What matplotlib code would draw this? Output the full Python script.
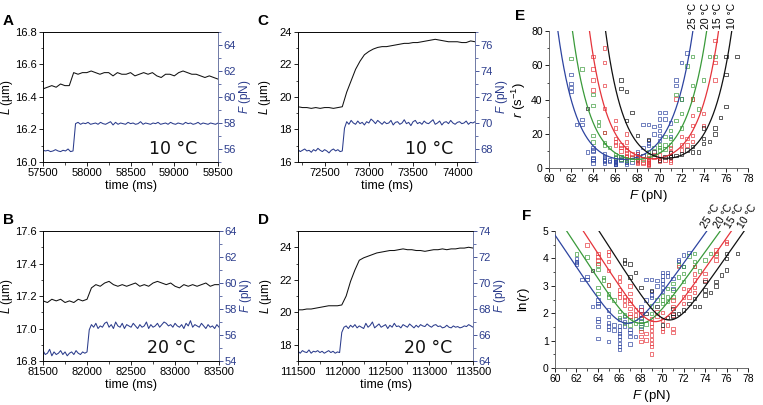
import numpy as np
import matplotlib.pyplot as plt
from matplotlib.ticker import MultipleLocator

plt.rcParams['font.family'] = ['Liberation Sans', 'DejaVu Sans']
plt.rcParams['mathtext.fontset'] = 'custom'
plt.rcParams['mathtext.rm'] = 'Liberation Sans'
plt.rcParams['mathtext.it'] = 'Liberation Sans:italic'

NAVY = '#2b3c8c'

# ---- extension traces (panels A-D) ----
A_TIME = (57500, 59500)
A_L = [16.45, 16.46, 16.47, 16.46, 16.48, 16.47, 16.47,
       16.55, 16.54, 16.55, 16.55, 16.56, 16.55, 16.54, 16.55, 16.55, 16.53,
       16.55, 16.54, 16.54, 16.55, 16.53, 16.54, 16.55, 16.54, 16.55, 16.53,
       16.52, 16.54, 16.54, 16.53, 16.55, 16.56, 16.55, 16.54, 16.54, 16.53,
       16.52, 16.53, 16.52, 16.51]
A_F = [55.90, 55.85, 55.90, 55.80, 55.85, 55.95, 55.85, 55.80, 55.90, 55.85, 56.00, 55.80, 55.85,
       57.95, 58.05, 57.90, 58.00, 57.95, 58.05, 57.90, 57.95, 58.00, 57.90,
       58.05, 57.95, 57.90, 58.00, 58.10, 57.85, 58.05, 57.90, 58.00, 57.95,
       57.90, 58.05, 57.95, 58.00, 57.90, 57.95, 58.10, 57.90, 58.00, 57.95,
       57.90, 58.00, 57.95, 58.05, 57.90, 57.95, 58.00, 57.90, 58.05, 57.95,
       57.90, 58.00, 57.95, 57.90, 58.05, 57.95, 58.00, 57.90, 57.95, 58.05,
       57.90, 58.00, 57.95, 57.90, 58.00, 57.95, 57.90, 58.00]

B_TIME = (81500, 83500)
B_L = [17.17, 17.16, 17.18, 17.17, 17.18, 17.16, 17.17, 17.16, 17.18, 17.17, 17.18,
       17.25, 17.27, 17.26, 17.28, 17.29, 17.27, 17.26, 17.27, 17.26, 17.27,
       17.28, 17.26, 17.27, 17.26, 17.28, 17.29, 17.28, 17.27, 17.28, 17.26,
       17.25, 17.27, 17.26, 17.27, 17.26, 17.27, 17.28, 17.26, 17.27, 17.27]
B_F = [54.8, 54.5, 54.6, 54.9, 54.4, 54.7, 54.5, 54.6, 54.8, 54.5, 54.7,
       54.4, 54.6, 54.7, 54.5, 54.8, 54.6, 54.5, 54.7, 54.6, 54.7,
       56.4, 56.8, 56.6, 56.9, 56.5, 56.7, 56.6, 56.9, 57.0, 56.6,
       56.8, 56.5, 57.0, 56.7, 56.6, 56.9, 56.5, 56.8, 56.7, 56.6,
       56.9, 56.7, 56.5, 56.8, 56.6, 56.7, 57.0, 56.5, 56.8, 56.6,
       56.7, 56.9, 56.6, 56.8, 57.0, 56.9, 56.7, 56.8, 56.6, 56.9,
       56.7, 56.6, 56.8, 56.5, 56.9, 56.7, 57.1, 56.6, 56.8, 56.7,
       56.6, 56.9, 56.7, 56.5, 56.8, 56.6, 56.7, 56.5, 56.8, 56.6]

C_TIME = (72200, 74200)
C_L = [19.40, 19.35, 19.35, 19.30, 19.35, 19.30, 19.35, 19.35, 19.30, 19.35, 19.40,
       20.30, 21.00, 21.70, 22.20, 22.60, 22.80, 22.95, 23.05, 23.10, 23.10,
       23.15, 23.20, 23.25, 23.30, 23.30, 23.35, 23.35, 23.40, 23.45, 23.50,
       23.55, 23.50, 23.45, 23.40, 23.40, 23.40, 23.35, 23.35, 23.45, 23.40]
C_F = [67.95, 67.80, 67.90, 68.00, 67.85, 67.90, 67.75, 67.95, 67.85, 68.05, 67.90,
       67.80, 67.95, 67.85, 67.70, 67.90, 68.00, 67.85, 67.95, 67.80, 67.85,
       69.60, 70.10, 69.90, 70.20, 70.00, 69.90, 70.15, 69.95, 70.05, 69.85,
       70.10, 70.00, 70.30, 70.15, 69.95, 70.20, 70.05, 69.90, 70.10, 69.95,
       70.00, 70.20, 69.85, 70.05, 70.10, 69.90, 70.00, 70.25, 69.95, 70.05,
       69.80, 70.10, 70.20, 69.95, 70.05, 69.90, 70.15, 70.00, 69.95, 70.10,
       70.25, 69.90, 70.00, 70.15, 69.85, 70.05, 70.10, 69.95, 70.20, 70.00,
       69.90, 70.05, 70.10, 69.95, 70.00, 70.15, 69.90, 70.05, 70.00, 70.10]

D_TIME = (111500, 113500)
D_L = [20.15, 20.15, 20.20, 20.20, 20.25, 20.30, 20.35, 20.40, 20.40, 20.40, 20.45,
       21.00, 21.90, 22.60, 23.20, 23.35, 23.45, 23.55, 23.65, 23.70, 23.75,
       23.80, 23.80, 23.85, 23.90, 23.85, 23.85, 23.80, 23.80, 23.75, 23.80,
       23.85, 23.85, 23.90, 23.85, 23.90, 23.90, 23.95, 23.95, 24.00, 23.95]
D_F = [64.75, 64.60, 64.80, 64.70, 64.65, 64.85, 64.60, 64.75, 64.70, 64.80,
       64.65, 64.75, 64.60, 64.70, 64.80, 64.65, 64.75, 64.60, 64.70, 64.65,
       66.20, 66.60, 66.70, 66.50, 66.75, 66.60, 66.80, 66.55, 66.70, 66.60,
       66.50, 66.90, 66.60, 66.75, 67.00, 66.55, 66.70, 66.85, 66.60, 66.70,
       66.80, 66.50, 66.75, 66.60, 66.90, 66.65, 66.70, 66.55, 66.80, 66.70,
       66.60, 66.85, 66.70, 66.55, 66.75, 66.60, 66.80, 66.70, 66.65, 66.85,
       66.70, 66.60, 66.75, 66.80, 66.65, 66.70, 66.55, 66.60, 66.75, 66.60,
       66.55, 66.70, 66.60, 66.65, 66.55, 66.60, 66.70, 66.65, 66.80, 66.70, 66.60]

# ---- rupture rates vs force (panels E, F), ln(r) ----
TEMPS = ['25 °C', '20 °C', '15 °C', '10 °C']
TEMP_COLORS = ['#2d44a0', '#3a9a3a', '#e5343b', '#111111']

F25 = [62, 62, 62, 62, 62.5, 63, 63, 63.5, 64, 64, 64, 64, 64, 64, 64,
       65, 65, 65, 65, 65, 65, 65.5, 65.5, 66, 66, 66, 66, 66, 66, 66, 66, 66,
       66.5, 66.5, 66.5, 67, 67, 67, 67, 67.5, 68, 68, 68, 68, 68, 68,
       68.5, 68.5, 69, 69, 69, 69, 69.5, 69.5, 70, 70, 70, 70, 70, 70,
       70.5, 70.5, 71, 71, 71.5, 71.5, 72, 72, 72.5]
LNR25 = [4.0, 3.9, 3.85, 3.8, 3.24, 3.35, 3.24, 2.24, 2.48, 2.36, 2.26, 1.81, 1.69, 1.51, 1.08,
         2.12, 1.87, 1.65, 1.53, 1.41, 0.96, 1.57, 1.39, 1.78, 1.53, 1.39, 1.27, 1.17, 1.05, 0.9, 0.78, 0.68,
         1.87, 1.69, 1.53, 1.41, 1.29, 1.14, 0.88, 1.14, 2.24, 2.12, 1.97, 1.85, 1.69, 1.51,
         3.24, 2.48, 3.24, 2.79, 2.66, 2.58, 3.19, 2.99, 3.48, 3.36, 3.21, 3.09, 2.94, 2.79,
         3.48, 3.36, 2.91, 3.27, 3.94, 3.88, 4.12, 3.70, 4.21]

F20 = [62, 63, 64, 64, 64, 64, 64.5, 64.5, 65, 65, 65, 65.5, 66, 66, 66.5, 66.5,
       67, 67, 67.5, 67.5, 68, 68, 68, 68.5, 69, 69, 69.5, 70, 70, 70,
       70.5, 70.5, 70.5, 71, 71, 71, 71.5, 71.5, 72, 72, 72, 72.5, 73, 73, 73,
       73.5, 74, 74.5, 75]
LNR20 = [4.16, 4.06, 3.76, 3.60, 2.94, 2.73, 3.31, 3.21, 3.03, 2.70, 2.60, 2.48, 2.06, 1.85, 1.93, 1.63,
         1.75, 1.57, 1.81, 1.63, 1.81, 1.63, 1.45, 1.6, 2.0, 2.26, 2.48, 2.63, 2.48, 2.36,
         2.91, 2.60, 2.42, 3.09, 2.85, 2.60, 3.76, 3.33, 3.70, 3.46, 3.15, 4.09, 4.18, 3.88, 3.70,
         3.54, 3.94, 4.18, 4.18]

F15 = [63, 64, 64, 64, 64, 65, 65, 65, 65, 65, 66, 66, 66, 66, 66, 66.5, 66.5, 66.5,
       67, 67, 67, 67, 67, 67, 67, 67.5, 67.5, 68, 68, 68, 68, 68, 68.5, 68.5,
       69, 69, 69, 69, 69, 69, 69, 69, 69, 69.5, 69.5, 70, 70, 70, 70, 70.5,
       71, 71, 71, 71, 71, 71.5, 72, 72, 72, 72.5, 72.5, 73, 73, 73, 73, 73,
       74, 74, 75, 75, 75, 76, 76]
LNR15 = [4.49, 4.18, 4.06, 3.94, 3.82, 4.25, 4.12, 3.88, 3.55, 3.03, 3.33, 3.15, 2.85, 2.72, 2.60,
         2.48, 2.30, 2.60, 2.99, 2.72, 2.48, 2.36, 2.18, 2.0, 1.87, 2.12, 1.93,
         2.12, 1.93, 1.33, 1.14, 0.96, 1.27, 1.02,
         1.81, 1.65, 1.51, 1.36, 1.20, 1.05, 0.90, 0.78, 0.51, 2.05, 1.87, 2.02, 1.75, 1.45, 1.33, 1.57,
         2.48, 2.24, 1.93, 1.45, 1.29, 3.70, 2.91, 2.60, 2.36, 2.85, 2.60, 3.70, 3.43, 3.21, 2.94, 2.75,
         3.46, 3.21, 4.31, 4.12, 3.94, 4.61, 4.55]

F10 = [63.5, 66.5, 66.5, 67, 67, 67.5, 68, 68.5, 69, 69.5, 70, 70.5, 71, 71, 71,
       71.5, 72, 72.5, 73, 73, 73.5, 74, 74, 74, 74.5, 75, 75, 75.5, 76, 76, 76, 77]
LNR10 = [3.55, 3.94, 3.84, 3.80, 3.33, 3.48, 2.94, 2.0, 2.82, 2.24, 1.57, 1.85, 2.18, 2.0, 1.87,
         2.0, 2.12, 2.36, 2.54, 2.24, 2.24, 3.15, 2.85, 2.66, 2.75, 3.15, 2.99, 3.39, 4.18, 4.0, 3.58, 4.18]

# fitted curves: ln r = c + ln(exp(kr (F - F0)) + exp(-kl (F - F0)))
FIT_F0 = [66.7, 67.9, 69.3, 70.6]
FIT_C = [0.94, 0.94, 1.00, 1.06]
FIT_KL = [0.584, 0.596, 0.600, 0.606]
FIT_KR = [0.545, 0.541, 0.560, 0.560]


def trace_panel(ax, trange, L, F, Llim, Lmaj, Lmin, Lfmt, Flim, Fticks, xticks, temp, tx,
                letter, lab_left, lab_right):
    tL = np.linspace(trange[0], trange[1], len(L))
    tF = np.linspace(trange[0], trange[1], len(F))
    ax.plot(tL, L, color='#111111', lw=0.75)
    ax.set_xlim(*trange)
    ax.set_ylim(*Llim)
    ax.yaxis.set_major_locator(MultipleLocator(Lmaj))
    ax.yaxis.set_minor_locator(MultipleLocator(Lmin))
    ax.yaxis.set_major_formatter(Lfmt)
    ax.set_xticks(xticks)
    ax.xaxis.set_minor_locator(MultipleLocator(250))
    ax.tick_params(labelsize=8, length=3, width=0.6, pad=1.5)
    ax.tick_params(which='minor', length=1.8, width=0.5)
    ax.set_xlabel('time (ms)', fontsize=9, labelpad=1)
    ax.set_ylabel('$L$ (µm)', fontsize=8.5)
    ax.yaxis.set_label_coords(lab_left, 0.5)
    for s in ax.spines.values():
        s.set_linewidth(0.6)
        s.set_color('#333333')

    ax2 = ax.twinx()
    ax2.plot(tF, F, color=NAVY, lw=0.75)
    ax2.set_ylim(*Flim)
    ax2.set_yticks(Fticks)
    ax2.yaxis.set_minor_locator(MultipleLocator(1))
    ax2.tick_params(labelsize=8, length=3, width=0.6, pad=1, colors=NAVY)
    ax2.tick_params(which='minor', length=1.8, width=0.5, colors=NAVY)
    ax2.set_ylabel('$F$ (pN)', fontsize=8.5, color=NAVY)
    ax2.yaxis.set_label_coords(lab_right, 0.5)
    for s in ax2.spines.values():
        s.set_linewidth(0.6)
    ax2.spines['right'].set_color('#7a86b8')

    ax.text(tx, 0.03, temp, transform=ax.transAxes, ha='right', va='bottom',
            fontsize=12.5, family='DejaVu Sans', color='#111111')
    ax.text(-0.23, 1.14, letter, transform=ax.transAxes, fontsize=11, fontweight='bold',
            ha='left', va='top')


def rate_panel(ax, use_log, letter, lab_x):
    xs = np.linspace(59, 79, 1200)
    fdata = [F25, F20, F15, F10]
    ldata = [LNR25, LNR20, LNR15, LNR10]
    ymax = 5.0 if use_log else 80.0
    for i in range(4):
        col = TEMP_COLORS[i]
        y = np.array(ldata[i])
        ax.scatter(fdata[i], y if use_log else np.exp(y), marker='s', s=6,
                   facecolors='none', edgecolors=col, linewidths=0.55, zorder=2, alpha=0.85)
        d = xs - FIT_F0[i]
        curve = FIT_C[i] + np.log(np.exp(FIT_KR[i] * d) + np.exp(-FIT_KL[i] * d))
        if not use_log:
            curve = np.exp(curve)
        ax.plot(xs, curve, color=col, lw=0.9, zorder=3)
        # label at the right end of the curve where it meets the top of the axes
        right = xs[(curve <= ymax) & (xs > FIT_F0[i])]
        xend = right.max()
        if use_log:
            ax.text(xend + 0.05, ymax + 0.05, TEMPS[i], rotation=58, rotation_mode='anchor',
                    ha='left', va='bottom', fontsize=7.5, clip_on=False)
        else:
            ax.text(xend, ymax + 1, TEMPS[i], rotation=90, ha='center', va='bottom',
                    fontsize=7.5, clip_on=False)
    ax.set_xlim(60, 78)
    ax.set_ylim(0, ymax)
    ax.xaxis.set_major_locator(MultipleLocator(2))
    ax.xaxis.set_minor_locator(MultipleLocator(1))
    if use_log:
        ax.yaxis.set_major_locator(MultipleLocator(1))
        ax.yaxis.set_minor_locator(MultipleLocator(0.5))
        ax.set_ylabel('ln($r$)', fontsize=9.5)
    else:
        ax.yaxis.set_major_locator(MultipleLocator(20))
        ax.yaxis.set_minor_locator(MultipleLocator(10))
        ax.set_ylabel('$r$ (s$^{-1}$)', fontsize=9.5)
    ax.yaxis.set_label_coords(lab_x, 0.5)
    ax.set_xlabel('$F$ (pN)', fontsize=9.5, labelpad=3)
    ax.spines['top'].set_visible(False)
    ax.spines['right'].set_visible(False)
    for s in ('left', 'bottom'):
        ax.spines[s].set_linewidth(0.6)
        ax.spines[s].set_color('#555555')
    ax.tick_params(labelsize=7.5, length=3, width=0.6, pad=1.5)
    ax.tick_params(which='minor', length=1.8, width=0.5)
    ax.text(-0.17, 1.16, letter, transform=ax.transAxes, fontsize=11, fontweight='bold',
            ha='left', va='top')


fig = plt.figure(figsize=(7.63, 4.05), dpi=100)

axA = fig.add_axes([0.0564, 0.600, 0.2294, 0.321])
axB = fig.add_axes([0.0564, 0.1086, 0.2307, 0.321])
axC = fig.add_axes([0.3906, 0.600, 0.2320, 0.321])
axD = fig.add_axes([0.3906, 0.1086, 0.2294, 0.321])
axE = fig.add_axes([0.7195, 0.585, 0.2608, 0.338])
axF = fig.add_axes([0.7274, 0.0914, 0.2530, 0.338])

trace_panel(axA, A_TIME, A_L, A_F, (16.0, 16.8), 0.2, 0.1, '{x:.1f}', (55, 65),
            [56, 58, 60, 62, 64], [57500, 58000, 58500, 59000, 59500], '10 °C', 0.88, 'A',
            -0.16, 1.11)
trace_panel(axB, B_TIME, B_L, B_F, (16.8, 17.6), 0.2, 0.1, '{x:.1f}', (54, 64),
            [54, 56, 58, 60, 62, 64], [81500, 82000, 82500, 83000, 83500], '20 °C', 0.865, 'B',
            -0.16, 1.11)
trace_panel(axC, C_TIME, C_L, C_F, (16, 24), 2, 1, '{x:.0f}', (67, 77),
            [68, 70, 72, 74, 76], [72500, 73000, 73500, 74000], '10 °C', 0.875, 'C',
            -0.14, 1.105)
trace_panel(axD, D_TIME, D_L, D_F, (17, 25), 2, 1, '{x:.0f}', (64, 74),
            [64, 66, 68, 70, 72, 74], [111500, 112000, 112500, 113000, 113500], '20 °C', 0.88, 'D',
            -0.14, 1.11)

rate_panel(axE, False, 'E', -0.105)
rate_panel(axF, True, 'F', -0.12)

fig.savefig('out.png', dpi=100)
